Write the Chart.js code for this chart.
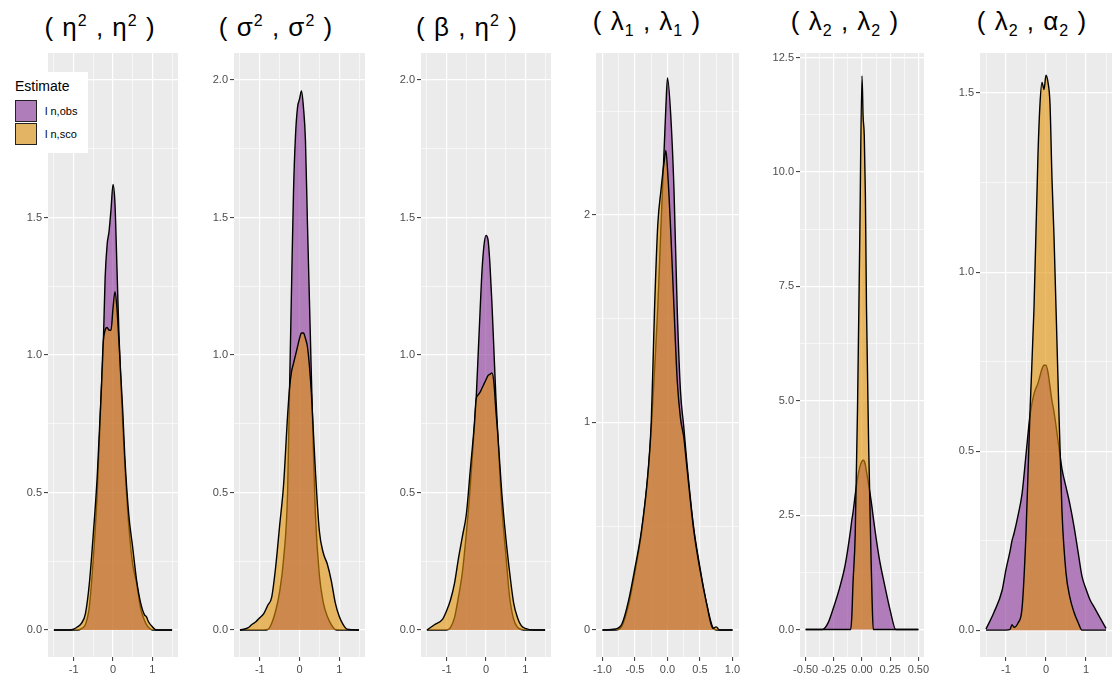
<!DOCTYPE html>
<html>
<head>
<meta charset="utf-8">
<script src="https://cdn.jsdelivr.net/npm/chart.js"></script>
<style>
  body { margin: 0; background: #fff; width: 1119px; height: 700px; position: relative; overflow: hidden;
         font-family: "Liberation Sans", Arial, sans-serif; }
  .panel { position: absolute; top: 0; height: 700px; }
  .title { position: absolute; top: 4px; width: 220px; text-align: center; font-size: 26px; line-height: 34px; color: #000; white-space: nowrap; letter-spacing: 1px; }
  .title sup, .title sub { font-size: 16px; }
  #legend { position: absolute; left: 13px; top: 72px; width: 75px; height: 81px; background: #fff; }
  #legend .lt { position: absolute; left: 2px; top: 6px; font-size: 14px; color: #000; }
  #legend .row { position: absolute; left: 2px; height: 22px; font-size: 11px; line-height: 22px; color: #000; }
  #legend .key { display: inline-block; width: 20px; height: 20px; border: 1px solid #222; vertical-align: top; margin-right: 8px; }
</style>
</head>
<body>
<div class="title" style="left:-10px">( η<sup>2</sup> , η<sup>2</sup> )</div>
<div class="title" style="left:166px">( σ<sup>2</sup> , σ<sup>2</sup> )</div>
<div class="title" style="left:357px">( β , η<sup>2</sup> )</div>
<div class="title" style="left:537px">( λ<sub>1</sub> , λ<sub>1</sub> )</div>
<div class="title" style="left:735px">( λ<sub>2</sub> , λ<sub>2</sub> )</div>
<div class="title" style="left:922px">( λ<sub>2</sub> , α<sub>2</sub> )</div>

<div class="panel" id="p1"><canvas id="c1"></canvas></div>
<div class="panel" id="p2"><canvas id="c2"></canvas></div>
<div class="panel" id="p3"><canvas id="c3"></canvas></div>
<div class="panel" id="p4"><canvas id="c4"></canvas></div>
<div class="panel" id="p5"><canvas id="c5"></canvas></div>
<div class="panel" id="p6"><canvas id="c6"></canvas></div>

<div id="legend">
  <div class="lt">Estimate</div>
  <div class="row" style="top:28px"><span class="key" style="background:#B07DBB"></span>l n,obs</div>
  <div class="row" style="top:51px"><span class="key" style="background:#E4B465"></span>l n,sco</div>
</div>

<script>
// density curves, one x grid per panel
const x1 = [-1.5, -1.1, -1.0, -0.9, -0.8, -0.7, -0.6, -0.5, -0.4, -0.3, -0.25, -0.2, -0.15, -0.1, -0.05, 0, 0.05, 0.1, 0.15, 0.2, 0.25, 0.3, 0.4, 0.5, 0.6, 0.7, 0.8, 0.85, 0.9, 1.0, 1.1, 1.5];
const obs1 = [0, 0, 0, 0, 0.005, 0.02, 0.085, 0.26, 0.5, 0.86, 1.02, 1.28, 1.40, 1.45, 1.53, 1.62, 1.55, 1.32, 1.08, 0.9, 0.74, 0.6, 0.38, 0.24, 0.17, 0.08, 0.035, 0.02, 0.01, 0, 0, 0];
const sco1 = [0, 0, 0.003, 0.012, 0.025, 0.06, 0.17, 0.35, 0.56, 0.86, 1.04, 1.09, 1.10, 1.09, 1.09, 1.17, 1.23, 1.17, 1.05, 0.92, 0.79, 0.63, 0.42, 0.3, 0.18, 0.1, 0.055, 0.048, 0.03, 0.012, 0, 0];

const x2 = [-1.5, -1.3, -1.2, -1.1, -1.0, -0.9, -0.8, -0.7, -0.6, -0.5, -0.4, -0.3, -0.25, -0.2, -0.15, -0.1, -0.05, 0, 0.05, 0.1, 0.15, 0.2, 0.25, 0.3, 0.35, 0.4, 0.5, 0.6, 0.7, 0.8, 0.9, 1.0, 1.1, 1.2, 1.5];
const obs2 = [0, 0, 0, 0, 0, 0, 0.002, 0.025, 0.07, 0.14, 0.26, 0.5, 0.88, 1.25, 1.6, 1.8, 1.9, 1.93, 1.96, 1.9, 1.78, 1.48, 1.2, 0.92, 0.65, 0.42, 0.2, 0.1, 0.05, 0.02, 0.002, 0, 0, 0, 0];
const sco2 = [0, 0.008, 0.02, 0.03, 0.045, 0.06, 0.09, 0.12, 0.23, 0.38, 0.53, 0.78, 0.88, 0.94, 0.97, 1.0, 1.03, 1.06, 1.08, 1.08, 1.06, 1.03, 0.96, 0.86, 0.72, 0.58, 0.36, 0.28, 0.24, 0.18, 0.1, 0.05, 0.02, 0.003, 0];

const x3 = [-1.5, -1.3, -1.1, -1.0, -0.9, -0.8, -0.7, -0.6, -0.5, -0.4, -0.3, -0.25, -0.2, -0.15, -0.1, -0.05, 0, 0.05, 0.1, 0.15, 0.2, 0.25, 0.3, 0.4, 0.5, 0.6, 0.7, 0.8, 0.9, 1.0, 1.2, 1.5];
const obs3 = [0, 0, 0, 0, 0.01, 0.045, 0.12, 0.21, 0.35, 0.52, 0.73, 0.84, 1.0, 1.16, 1.31, 1.4, 1.435, 1.42, 1.33, 1.19, 1.02, 0.85, 0.71, 0.45, 0.28, 0.12, 0.04, 0.01, 0.002, 0, 0, 0];
const sco3 = [0, 0.02, 0.04, 0.07, 0.11, 0.17, 0.26, 0.34, 0.42, 0.58, 0.74, 0.84, 0.855, 0.865, 0.88, 0.895, 0.91, 0.925, 0.93, 0.935, 0.9, 0.8, 0.71, 0.5, 0.34, 0.21, 0.1, 0.045, 0.015, 0.006, 0, 0];

const x4 = [-1.0, -0.8, -0.7, -0.6, -0.5, -0.4, -0.3, -0.25, -0.2, -0.15, -0.1, -0.05, -0.025, 0, 0.05, 0.1, 0.15, 0.2, 0.25, 0.3, 0.4, 0.5, 0.6, 0.7, 0.75, 0.8, 1.0];
const obs4 = [0, 0, 0.02, 0.12, 0.28, 0.47, 0.75, 0.97, 1.25, 1.55, 1.95, 2.33, 2.52, 2.66, 2.48, 2.12, 1.54, 1.15, 0.98, 0.8, 0.5, 0.3, 0.13, 0.01, 0, 0, 0];
const sco4 = [0, 0.005, 0.03, 0.14, 0.3, 0.48, 0.76, 1.0, 1.54, 1.95, 2.12, 2.26, 2.31, 2.22, 1.92, 1.55, 1.2, 1.02, 0.93, 0.78, 0.49, 0.29, 0.13, 0.008, 0.015, 0, 0];

const x5 = [-0.5, -0.4, -0.35, -0.3, -0.25, -0.2, -0.15, -0.1, -0.09, -0.08, -0.06, -0.04, -0.02, 0, 0.01, 0.02, 0.03, 0.04, 0.06, 0.08, 0.09, 0.1, 0.15, 0.2, 0.25, 0.3, 0.35, 0.4, 0.5];
const obs5 = [0, 0, 0, 0.15, 0.5, 0.9, 1.4, 2.2, 2.4, 2.55, 2.95, 3.3, 3.55, 3.68, 3.7, 3.68, 3.6, 3.45, 3.15, 2.83, 2.65, 2.45, 1.6, 0.98, 0.42, 0, 0, 0, 0];
const sco5 = [0, 0, 0, 0, 0, 0, 0, 0, 0.3, 1.0, 2.1, 4.8, 8.5, 12.1, 11.2, 10.8, 9.5, 7.0, 3.9, 1.6, 0.6, 0, 0, 0, 0, 0, 0, 0, 0];

const x6 = [-1.5, -1.3, -1.1, -1.0, -0.9, -0.85, -0.8, -0.7, -0.6, -0.5, -0.4, -0.3, -0.2, -0.15, -0.1, -0.05, 0, 0.05, 0.1, 0.15, 0.2, 0.3, 0.4, 0.5, 0.6, 0.7, 0.8, 0.9, 1.0, 1.1, 1.2, 1.3, 1.5];
const obs6 = [0.003, 0.05, 0.11, 0.17, 0.22, 0.25, 0.27, 0.32, 0.38, 0.49, 0.6, 0.66, 0.69, 0.71, 0.73, 0.74, 0.74, 0.72, 0.68, 0.64, 0.61, 0.53, 0.45, 0.40, 0.35, 0.29, 0.22, 0.15, 0.115, 0.085, 0.065, 0.045, 0.005];
const sco6 = [0, 0, 0, 0, 0.002, 0.015, 0.008, 0.02, 0.06, 0.27, 0.61, 0.9, 1.33, 1.47, 1.53, 1.51, 1.55, 1.53, 1.47, 1.26, 1.1, 0.7, 0.33, 0.16, 0.09, 0.05, 0.022, 0, 0, 0, 0, 0, 0];

// tick labels
const xTicksWide = ['-1', '0', '1'];
const xTicks4 = ['-1.0', '-0.5', '0.0', '0.5', '1.0'];
const xTicks5 = ['-0.50', '-0.25', '0.00', '0.25', '0.50'];
const yTicks123 = ['0.0', '0.5', '1.0', '1.5', '2.0'];
const yTicks4 = ['0', '1', '2'];
const yTicks5 = ['0.0', '2.5', '5.0', '7.5', '10.0', '12.5'];
const yTicks6 = ['0.0', '0.5', '1.0', '1.5'];

const purpleFill = 'rgba(137,50,153,0.6)';
const orangeFill = 'rgba(225,145,5,0.6)';
const font = { family: '"Liberation Sans", Arial, sans-serif', size: 11 };

const panelBg = {
  id: 'panelBg',
  beforeDraw(chart) {
    const a = chart.chartArea, ctx = chart.ctx;
    ctx.save();
    ctx.fillStyle = '#EBEBEB';
    ctx.fillRect(a.left, a.top, a.right - a.left, a.bottom - a.top);
    ctx.restore();
  }
};

// major ticks plus ggplot style minor lines half way between them
function tickSet(labels, lo, hi) {
  const major = labels.map(Number);
  const step = major[1] - major[0];
  const minor = [major[0] - step / 2].concat(major.map(v => v + step / 2)).filter(v => v > lo && v < hi);
  return { major, minor, all: major.concat(minor).sort((a, b) => a - b), labels };
}

function axis(t, lo, hi, isX) {
  const isMajor = v => t.major.some(m => Math.abs(m - v) < 1e-9);
  return {
    type: 'linear', min: lo, max: hi,
    afterBuildTicks: s => { s.ticks = t.all.map(v => ({ value: v })); },
    afterFit: s => { if (isX) s.height = 43; else s.width = 45; },
    ticks: {
      autoSkip: false, maxRotation: 0, padding: 2, color: '#4D4D4D', font,
      callback: v => { const i = t.major.findIndex(m => Math.abs(m - v) < 1e-9); return i < 0 ? '' : t.labels[i]; }
    },
    grid: {
      color: '#FFFFFF',
      lineWidth: c => isMajor(c.tick.value) ? 1.2 : 0.6,
      tickColor: c => isMajor(c.tick.value) ? '#333333' : 'rgba(0,0,0,0)',
      tickLength: 4, tickWidth: 1
    },
    border: { display: false }
  };
}

function panel(n, plotL, plotR, xs, obs, sco, xLim, yLim, xLabels, yLabels) {
  const box = document.getElementById('p' + n);
  box.style.left = (plotL - 45) + 'px';
  box.style.width = (plotR - plotL + 45 + 16) + 'px';
  const line = { borderColor: '#000', borderWidth: 1.4, pointRadius: 0, fill: 'origin', cubicInterpolationMode: 'monotone' };
  new Chart(document.getElementById('c' + n), {
    type: 'line',
    data: {
      datasets: [
        Object.assign({ label: 'l n,sco', data: xs.map((x, i) => ({ x, y: sco[i] })), backgroundColor: orangeFill, order: 0 }, line),
        Object.assign({ label: 'l n,obs', data: xs.map((x, i) => ({ x, y: obs[i] })), backgroundColor: purpleFill, order: 1 }, line)
      ]
    },
    options: {
      responsive: true, maintainAspectRatio: false, animation: false,
      layout: { padding: { top: 53, right: 16, left: 0, bottom: 0 } },
      plugins: { legend: { display: false }, tooltip: { enabled: false } },
      scales: {
        x: axis(tickSet(xLabels, xLim[0], xLim[1]), xLim[0], xLim[1], true),
        y: axis(tickSet(yLabels, yLim[0], yLim[1]), yLim[0], yLim[1], false)
      }
    },
    plugins: [panelBg]
  });
}

panel(1, 48, 178, x1, obs1, sco1, [-1.65, 1.65], [-0.098, 2.098], xTicksWide, yTicks123);
panel(2, 234, 365, x2, obs2, sco2, [-1.65, 1.65], [-0.098, 2.098], xTicksWide, yTicks123);
panel(3, 421, 551, x3, obs3, sco3, [-1.65, 1.65], [-0.098, 2.098], xTicksWide, yTicks123);
panel(4, 596, 739, x4, obs4, sco4, [-1.1, 1.1], [-0.13, 2.78], xTicks4, yTicks4);
panel(5, 800, 924, x5, obs5, sco5, [-0.55, 0.55], [-0.6, 12.6], xTicks5, yTicks5);
panel(6, 980, 1112, x6, obs6, sco6, [-1.65, 1.65], [-0.075, 1.612], xTicksWide, yTicks6);
</script>
</body>
</html>
